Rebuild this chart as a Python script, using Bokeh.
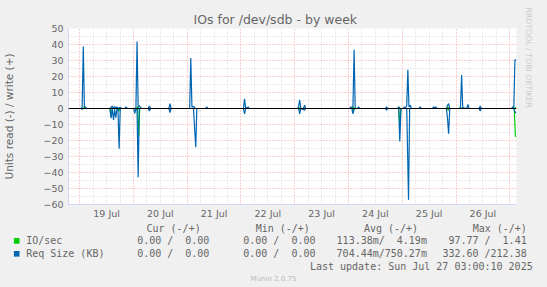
import pandas as pd
from bokeh.plotting import figure
from bokeh.layouts import column
from bokeh.models import (Range1d, FixedTicker, DatetimeTickFormatter, Grid, Span, Title, Div)
from bokeh.embed import file_html
from bokeh.resources import INLINE

# ---------------- data (hours after 2025-07-19 00:00) ----------------
BASE = pd.Timestamp("2025-07-19 00:00")
START = pd.Timestamp("2025-07-18 19:00")
END = pd.Timestamp("2025-07-27 03:00")

req_write_h = [-5.0, 0.6, 1.1, 1.6, 2.1, 2.6, 3.1,
               13.5, 14.5, 15.0, 15.6, 16.1, 16.6, 17.1, 18.1, 18.6,
               20.2, 20.7, 21.2,
               24.6, 25.1, 25.6, 26.1, 26.6, 27.1, 27.6,
               30.6, 31.1, 31.6,
               39.8, 40.3, 40.8,
               49.1, 49.6, 50.1, 50.6, 51.1, 51.6,
               56.2, 56.7, 57.2,
               73.1, 73.6, 74.1, 75.2, 75.7,
               97.2, 97.7, 98.2, 98.7, 99.9, 100.4, 100.9,
               120.5, 121.0, 121.5, 122.0, 122.5, 123.0, 124.0, 124.5, 125.0,
               136.5, 137.0, 137.5,
               141.9, 142.4, 142.9,
               144.4, 144.9, 145.4, 146.0, 146.5, 147.0, 147.6, 148.1,
               151.5, 152.0, 152.5,
               157.5, 158.0, 158.5, 159.0, 159.5,
               163.7, 164.2, 164.7, 165.2,
               169.5, 170.0, 170.5, 171.0, 172.8, 173.3, 173.8,
               178.3, 178.8, 179.3,
               192.8, 193.3, 193.8, 194.3, 194.9]
req_write_v = [0, 0, 1, 38.8, 1, 1, 0,
               0, 1.5, 0, 1.2, 0, 1, 0, 0.8, 0,
               0, 1, 0,
               0, 0.5, 41.9, 1, 1.5, 1, 0,
               0, 1.5, 0,
               0, 3, 0,
               0, 31.5, 1, 1.2, 1, 0,
               0, 1, 0,
               0, 6, 0, 1, 0,
               0, 1, 5.4, 0, 0, 2, 0,
               0, 1, 0.5, 1.5, 36.7, 0, 0, 1, 0,
               0, 1, 0,
               0, 1, 0,
               0, 1, 0.5, 1.5, 24.2, 1, 2, 0,
               0, 1, 0,
               0, 1, 0.3, 1, 0,
               0, 2, 3, 0,
               0, 1, 21, 0.5, 0, 2.5, 0,
               0, 1.5, 0,
               0, 1, 0.5, 30.4, 30.4]

req_read_h = [-5.0, 0.6, 1.1, 1.6,
              13.5, 14.0, 14.5, 15.1, 15.6, 16.1, 16.6, 17.1, 17.6, 18.1,
              24.1, 24.6, 25.1, 25.6, 26.1, 26.6,
              30.6, 31.1, 31.6,
              39.8, 40.3, 40.8,
              50.8, 51.8, 52.3,
              73.1, 73.6, 74.1,
              97.7, 98.2, 98.7, 100.4, 100.9,
              121.5, 122.0, 122.5, 123.0,
              136.5, 137.0, 137.5,
              142.4, 142.9, 143.4, 143.9,
              146.0, 146.8, 147.3,
              163.7, 164.2, 164.7, 165.2,
              178.3, 178.8, 179.3,
              193.8, 194.3, 194.9]
req_read_v = [0, 0, 0.5, 0,
              0, 6, 0, 7.1, 0.5, 5.8, 0.5, 1, 25.2, 0,
              0, 3, 0, 0.5, 42.9, 0,
              0, 1.5, 0,
              0, 2.5, 0,
              0, 24.2, 0,
              0, 3.3, 0,
              0, 3.3, 0, 1, 0,
              0, 3.3, 0.5, 0,
              0, 1, 0,
              0, 20.6, 0.5, 0,
              0, 57.1, 0,
              0, 6, 15.8, 0,
              0, 1.5, 0,
              0, 2, 3]

io_write_h = [-5.0, 1.4, 1.9, 2.4, 25.4, 25.9, 26.4, 97.7, 98.2, 98.7,
              121.7, 122.2, 122.7, 142.1, 142.6, 143.1, 163.9, 164.4, 164.9,
              169.7, 170.2, 170.7, 194.0, 194.5, 194.9]
io_write_v = [0, 0, 0.8, 0, 0, 1, 0, 0, 0.5, 0,
              0, 0.8, 0, 0, 0.8, 0, 0, 0.8, 0,
              0, 0.5, 0, 0, 0.5, 0.5]

io_read_h = [-5.0, 13.5, 14.0, 14.5, 17.1, 17.6, 18.1, 25.8, 26.3, 26.8,
             97.7, 98.2, 98.7, 121.5, 122.0, 122.5, 142.4, 142.9, 143.4,
             164.0, 164.5, 165.0, 194.0, 194.5, 194.9]
io_read_v = [0, 0, 5, 0, 0, 1.5, 0, 0, 17.5, 0,
             0, 0.5, 0, 0, 1, 0, 0, 9.2, 0,
             0, 1, 0, 0, 17.5, 17.5]

day_label_dates = ["2025-07-19", "2025-07-20", "2025-07-21", "2025-07-22",
                   "2025-07-23", "2025-07-24", "2025-07-25", "2025-07-26"]

legend_names = ["IO/sec", "Req Size (KB)"]
legend_colors = ["#00CC00", "#0066B3"]
legend_headers = ["Cur (-/+)", "Min (-/+)", "Avg (-/+)", "Max (-/+)"]
io_stats = ["  0.00 /  0.00", "  0.00 /  0.00", "113.38m/  4.19m", " 97.77 /  1.41"]
req_stats = ["  0.00 /  0.00", "  0.00 /  0.00", "704.44m/750.27m", "332.60 /212.38"]
last_update = "Last update: Sun Jul 27 03:00:10 2025"
title_text = "IOs for /dev/sdb - by week"
ylabel_text = "Units read (-) / write (+)"
watermark_text = "RRDTOOL / TOBI OETIKER"
version_text = "Munin 2.0.75"

# ---------------- helpers ----------------
def to_dt(hours):
    return [BASE + pd.Timedelta(hours=h) for h in hours]

def ms(ts):
    return ts.value / 1e6

def nb(s):
    return s.replace(" ", "\u00a0")

FONT = "DejaVu Sans"
MONO = "DejaVu Sans Mono"
FONT_COLOR = "#666666"
AXIS_COLOR = "#CFD6F8"
BG = "#F0F0F0"
TOP_H = 222

# ---------------- main chart ----------------
p = figure(width=547, height=TOP_H, output_backend="svg", toolbar_location=None,
           x_axis_type="datetime",
           x_range=Range1d(START, END), y_range=Range1d(-60, 50),
           min_border_left=66, min_border_right=31, min_border_top=28,
           min_border_bottom=18)
p.background_fill_color = "white"
p.border_fill_color = BG
p.outline_line_color = None
p.xgrid.visible = False
p.ygrid.visible = False

p.title.text = title_text
p.title.align = "left"
p.title.offset = 125
p.title.text_font = FONT
p.title.text_font_size = "12.5px"
p.title.text_font_style = "normal"
p.title.text_color = FONT_COLOR
p.title.standoff = 3

p.add_layout(Title(text=watermark_text, align="left", offset=-21, standoff=10,
                   vertical_align="top",
                   text_font=FONT, text_font_size="7.8px", text_font_style="normal",
                   text_color="#CCCCCC"), "right")

# grids
midnights = [ms(pd.Timestamp(d)) for d in day_label_dates] + [ms(pd.Timestamp("2025-07-27"))]
six_h = []
t = pd.Timestamp("2025-07-18 18:00")
while t <= END:
    if t.hour != 0:
        six_h.append(ms(t))
    t += pd.Timedelta(hours=6)
gray = dict(grid_line_color="#D4D4D4", grid_line_dash="1 2", grid_line_width=1)
red = dict(grid_line_color="#F2A0A0", grid_line_dash="1 2", grid_line_width=1)
p.add_layout(Grid(dimension=0, ticker=FixedTicker(ticks=six_h), **gray))
p.add_layout(Grid(dimension=1, ticker=FixedTicker(ticks=[-55, -45, -35, -25, -15, -5, 5, 15, 25, 35, 45]), **gray))
p.add_layout(Grid(dimension=0, ticker=FixedTicker(ticks=midnights), **red))
p.add_layout(Grid(dimension=1, ticker=FixedTicker(ticks=list(range(-60, 51, 10))), **red))

# axes
noons = [ms(pd.Timestamp(d) + pd.Timedelta(hours=12)) for d in day_label_dates]
p.xaxis.ticker = FixedTicker(ticks=noons)
fmt = "%d %b"
p.xaxis.formatter = DatetimeTickFormatter(milliseconds=fmt, seconds=fmt, minsec=fmt, minutes=fmt,
                                          hourmin=fmt, hours=fmt, days=fmt, months=fmt, years=fmt)
p.yaxis.ticker = FixedTicker(ticks=list(range(-60, 51, 10)))
for ax in (p.xaxis, p.yaxis):
    ax.axis_line_color = AXIS_COLOR
    ax.major_tick_line_color = None
    ax.minor_tick_line_color = None
    ax.major_tick_out = 0
    ax.major_tick_in = 0
    ax.minor_tick_out = 0
    ax.minor_tick_in = 0
    ax.major_label_text_font = FONT
    ax.major_label_text_color = FONT_COLOR
    ax.major_label_text_font_size = "9.5px"
p.yaxis.major_label_standoff = 5
p.xaxis.major_label_standoff = 3
p.yaxis.axis_label = ylabel_text
p.yaxis.axis_label_text_font = FONT
p.yaxis.axis_label_text_font_size = "10.5px"
p.yaxis.axis_label_text_font_style = "normal"
p.yaxis.axis_label_text_color = FONT_COLOR
p.yaxis.axis_label_standoff = 25

# series lines (reads are plotted below zero)
p.line(to_dt(io_write_h), io_write_v, line_color=legend_colors[0], line_width=1.2)
p.line(to_dt(io_read_h), [-v for v in io_read_v], line_color=legend_colors[0], line_width=1.2)
p.line(to_dt(req_write_h), req_write_v, line_color=legend_colors[1], line_width=1.2)
p.line(to_dt(req_read_h), [-v for v in req_read_v], line_color=legend_colors[1], line_width=1.2)

p.add_layout(Span(location=0, dimension="width", line_color="black", line_width=1))

# ---------------- munin-style legend strip (SVG text, page pixel coordinates) ----------------
header_x = [146.5, 255.7, 363.9, 472.7]
col_x = [125.1, 231.2, 336.6, 442.4]
row_y = [240.9, 253.8]

def svg_text(x, y, s, font=MONO, size="10px", color=FONT_COLOR, anchor="start"):
    style = (f"font-family:'{font}';font-size:{size};fill:{color};"
             f"text-anchor:{anchor};dominant-baseline:central;white-space:pre;"
             f"font-weight:normal;font-style:normal;letter-spacing:0")
    return f'<text x="{x}" y="{y}" style="{style}">{nb(s)}</text>'

parts = []
for hx, h in zip(header_x, legend_headers):
    parts.append(svg_text(hx, 228.7, h))
for ry, name, color, stats in zip(row_y, legend_names, legend_colors, [io_stats, req_stats]):
    parts.append(f'<rect x="13.9" y="{ry - 2.8}" width="5.6" height="5.6" style="fill:{color}"/>')
    parts.append(svg_text(26.2, ry, name))
    for cx, s in zip(col_x, stats):
        parts.append(svg_text(cx, ry, s))
parts.append(svg_text(532.7, 266.7, last_update, anchor="end"))
parts.append(svg_text(273.5, 279.3, version_text, font=FONT, size="7px", color="#BBBBBB",
                      anchor="middle"))

bottom_h = 287 - TOP_H
svg = (f'<svg xmlns="http://www.w3.org/2000/svg" width="547" height="{bottom_h}" '
       f'viewBox="0 {TOP_H} 547 {bottom_h}" style="display:block">'
       + "".join(parts) + '</svg>')
legend_div = Div(text=svg, width=547, height=bottom_h, margin=0,
                 styles={"background-color": BG, "padding": "0", "margin": "0",
                         "overflow": "hidden"})

layout = column(p, legend_div, spacing=0, margin=0, styles={"background-color": BG})
open("out.html", "w").write(file_html(layout, INLINE))
